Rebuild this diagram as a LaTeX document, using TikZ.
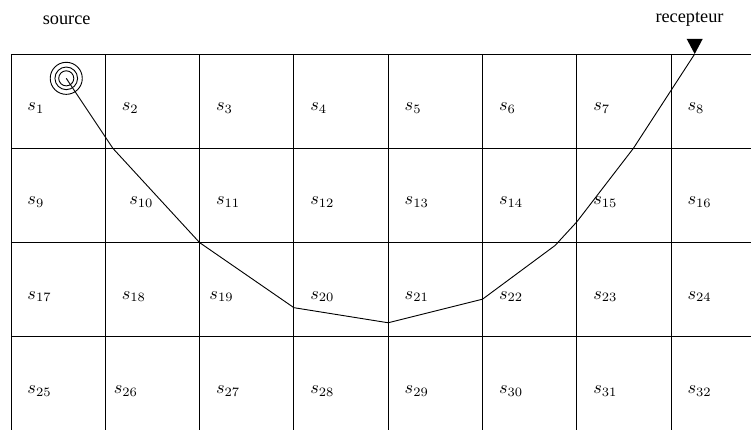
\documentclass[tikz,border=0pt]{standalone}
\usepackage[no-math]{fontspec}
\setmainfont{Liberation Serif}
\usepackage{amsmath,amssymb}

\begin{document}
\begin{tikzpicture}[x=1.813cm,y=1.813cm,line width=0.5pt]
  \def\ra{0.17}
  \def\rb{0.12}
  \def\rc{0.08}
  \useasboundingbox (-0.1166,-3.987) rectangle (7.847,0.5726);
  \clip (-0.1166,-3.987) rectangle (7.847,0.5726);
  % the 8x4 cells, cut by the frame on the right and below
  \draw[step=1.813cm] (0,-4) grid (8,0);
  \foreach \n in {1,...,32} {
    \pgfmathtruncatemacro\col{mod(\n-1,8)}
    \pgfmathtruncatemacro\row{div(\n-1,8)}
    \pgfmathsetmacro\dx{0.17+(\n==10)*0.08-(\n==19)*0.07-(\n==26)*0.085}
    \node[anchor=base west,inner sep=0pt] (s\n) at (\col+\dx,-\row-0.6) {$s_{\n}$};
  }
  % route from the source to the receiver
  \coordinate (src) at (0.586,-0.258);
  \coordinate (p1) at (1.08,-1);
  \coordinate (p2) at (2,-2);
  \coordinate (p3) at (3,-2.69);
  \coordinate (p4) at (4,-2.85);
  \coordinate (p5) at (5,-2.6);
  \coordinate (p6) at (5.77,-2.03);
  \coordinate (p7) at (6,-1.78);
  \coordinate (p8) at (6.6,-1);
  \coordinate (rcv) at (7.25,0);
  \draw (src) circle (\ra);
  \draw (src) circle (\rb);
  \draw (src) circle (\rc);
  \draw (src) -- (p1) -- (p2) -- (p3) -- (p4) -- (p5) -- (p6) -- (p7) -- (p8) -- (rcv);
  \fill (rcv) -- ++(-0.085,0.16) -- ++(0.17,0) -- cycle;
  \node[anchor=base] (srclabel) at (0.59,0.31) {source};
  \node[anchor=base] (rcvlabel) at (7.195,0.33) {recepteur};
\end{tikzpicture}
\end{document}
